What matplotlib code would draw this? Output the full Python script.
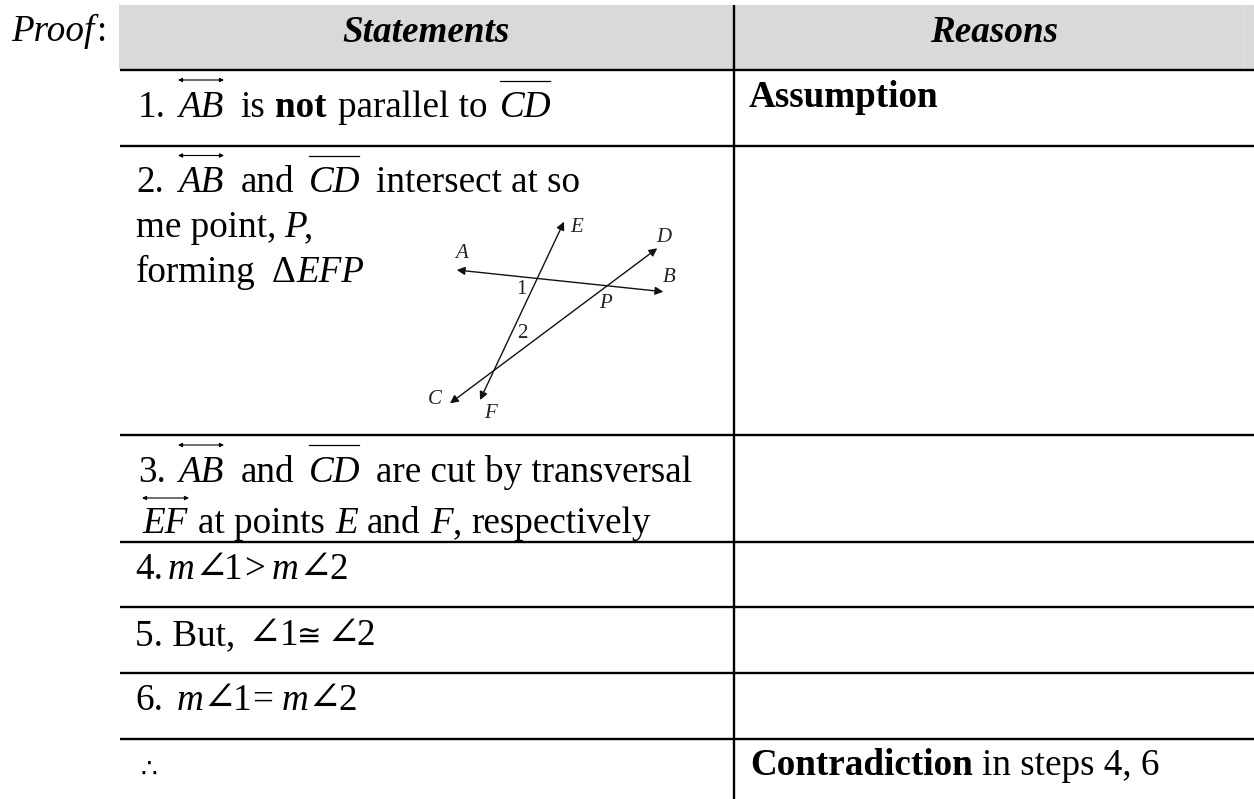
import matplotlib
matplotlib.use('Agg')
import matplotlib.pyplot as plt
from matplotlib.patches import Rectangle

W, H = 1254, 799
FONT = ['Liberation Serif', 'DejaVu Serif', 'DejaVu Sans']
SIZE = 26.7

row_lines = [70, 145.5, 434.5, 541.5, 606.5, 672.5, 738.5]

# x, baseline y, text
plain = [
    (138, 117, '1.'), (240.5, 117, 'is'), (338.5, 117, 'parallel to'),
    (136, 192, '2.'), (240.5, 192, 'and'), (376, 192, 'intersect at so'),
    (136, 237, 'me point,'), (136, 282, 'forming'), (272, 282, '\u0394'),
    (304, 237, ','),
    (138, 482, '3.'), (240.5, 482, 'and'), (376, 482, 'are cut by transversal'),
    (198, 533, 'at points'), (367, 533, 'and'), (453, 533, ','), (471, 533, 'respectively'),
    (135, 579, '4.'), (244.5, 579, '>'), (329.5, 579, '2'), (224, 579, '1'),
    (135, 645, '5. But,'), (280, 645, '1'), (356, 645, '2'),
    (135, 710, '6.'), (233, 710, '1'), (252.5, 710, '='), (338.5, 710, '2'),
    (982, 775, 'in steps 4, 6'),
]
italic = [
    (178, 117, 'AB'), (500, 117, 'CD'),
    (178, 192, 'AB'), (309, 192, 'CD'),
    (284, 237, 'P'), (296, 282, 'EFP'),
    (178, 482, 'AB'), (309, 482, 'CD'),
    (142, 533, 'EF'), (335, 533, 'E'), (430, 533, 'F'),
    (167.5, 579, 'm'), (272, 579, 'm'),
    (177, 710, 'm'), (282, 710, 'm'),
]
angles = [(194, 579), (298, 579), (247.5, 645), (326.5, 645), (202, 710), (307, 710)]
bold = [
    (275, 117, 'not'), (749, 107, 'Assumption'), (750, 775, 'Contradiction'),
]
headers = [(426, 42, 'Statements'), (994, 42, 'Reasons')]

# x0, x1, y
overbars = [(500, 550, 80.5), (309, 359, 155.5), (309, 359, 445)]
double_arrows = [(178, 224, 80), (178, 224, 155.5), (178, 224, 445), (142, 189, 498)]

# diagram: two ends of each line
diagram_lines = [((456.7, 270), (663.3, 291.7)), ((564, 221.7), (480, 400)), ((657.3, 248.3), (450, 403.3))]
diagram_labels = [(461.7, 254, 'A'), (669, 278, 'B'), (576.7, 228, 'E'), (664, 237.7, 'D'),
                  (435, 399, 'C'), (490, 413, 'F'), (605.7, 304, 'P')]
diagram_nums = [(521, 289, '1'), (522, 333, '2')]

fig = plt.figure(figsize=(W / 100, H / 100), dpi=100)
ax = fig.add_axes([0, 0, 1, 1])
ax.set_xlim(0, W)
ax.set_ylim(H, 0)
ax.axis('off')

ax.add_patch(Rectangle((119, 5), W - 119, 64, color='#d9d9d9', lw=0))
ax.plot([1244, 1244], [5, 69], color='#e2e2e2', lw=0.7)
for y in row_lines:
    ax.plot([120, W], [y, y], color='black', lw=1.7, solid_capstyle='butt')
ax.plot([733.7, 733.7], [5, H], color='black', lw=1.7, solid_capstyle='butt')

ax.text(11.5, 41, 'Proof', family=FONT, size=SIZE, style='italic', va='baseline')
ax.text(96, 41, ':', family=FONT, size=SIZE, va='baseline')

for x, y, s in headers:
    ax.text(x, y, s, family=FONT, size=SIZE, style='italic', weight='bold', ha='center', va='baseline')
for x, y, s in plain:
    ax.text(x, y, s, family=FONT, size=SIZE, va='baseline')
for x, y, s in italic:
    ax.text(x, y, s, family=FONT, size=SIZE, style='italic', va='baseline')
for x, y, s in bold:
    ax.text(x, y, s, family=FONT, size=SIZE, weight='bold', va='baseline')
for x, y in angles:
    ax.text(x, y, '\u2220', family=FONT, size=29, va='baseline')
ax.text(297, 645, '\u2245', family=FONT, size=21, va='baseline')
ax.text(140, 777, '\u2234', family=FONT, size=19, va='baseline')

for x0, x1, y in overbars:
    ax.plot([x0, x1], [y, y], color='black', lw=0.9)
for x0, x1, y in double_arrows:
    ax.annotate('', xy=(x0, y), xytext=(x1, y),
                arrowprops=dict(arrowstyle='<|-|>', color='black', lw=0.8, mutation_scale=6,
                                shrinkA=0, shrinkB=0))

for p0, p1 in diagram_lines:
    ax.annotate('', xy=p0, xytext=p1,
                arrowprops=dict(arrowstyle='<|-|>', color='#111111', lw=1.0, mutation_scale=12,
                                shrinkA=0, shrinkB=0))
for x, y, s in diagram_labels:
    ax.text(x, y, s, family=FONT, size=15, style='italic', ha='center', va='center', color='#222222')
for x, y, s in diagram_nums:
    ax.text(x, y, s, family=FONT, size=15, ha='center', va='center', color='#222222')

fig.savefig('out.png', dpi=100)
